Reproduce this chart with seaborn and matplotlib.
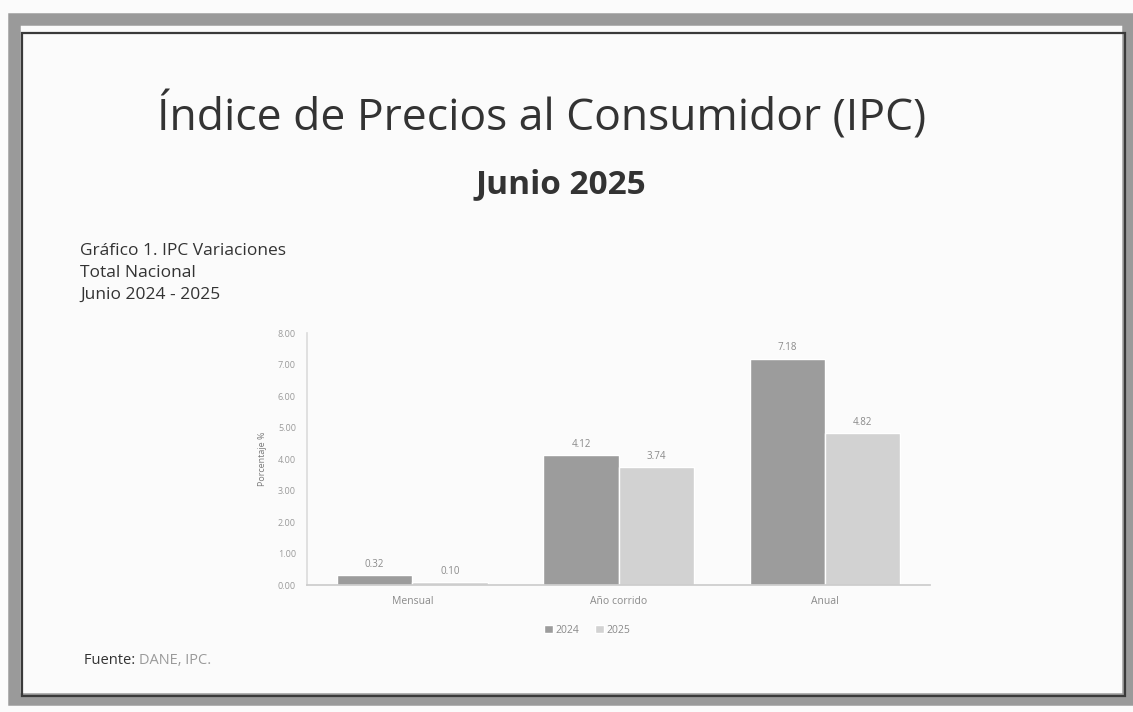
import matplotlib
matplotlib.use("Agg")
import matplotlib.pyplot as plt
import seaborn as sns
import pandas as pd
from matplotlib.patches import Rectangle

categories = ["Mensual", "Año corrido", "Anual"]
years = ["2024", "2025"]
values_2024 = [0.32, 4.12, 7.18]
values_2025 = [0.10, 3.74, 4.82]
ytick_values = [0, 1, 2, 3, 4, 5, 6, 7, 8]

df = pd.DataFrame({
    "Periodo": categories * 2,
    "Año": [years[0]] * 3 + [years[1]] * 3,
    "Valor": values_2024 + values_2025,
})

sns.set_theme(style="white")
plt.rcParams["font.family"] = ["Open Sans", "DejaVu Sans"]

fig = plt.figure(figsize=(11.33, 7.12), dpi=100)
fig.patch.set_facecolor("#fbfbfb")

# frame
fig.add_artist(Rectangle((0.012, 0.018), 0.984, 0.955, transform=fig.transFigure,
                         fill=False, edgecolor="#9a9a9a", linewidth=9))
fig.add_artist(Rectangle((0.019, 0.022), 0.974, 0.932, transform=fig.transFigure,
                         fill=False, edgecolor="#3a3a3a", linewidth=1.6))

ax = fig.add_axes([0.271, 0.178, 0.55, 0.354])
ax.set_facecolor("#fbfbfb")
palette = {"2024": "#9c9c9c", "2025": "#d2d2d2"}
sns.barplot(data=df, x="Periodo", y="Valor", hue="Año", order=categories,
            hue_order=years, palette=palette, width=0.73, ax=ax,
            saturation=1, legend=True)

for cont in ax.containers:
    ax.bar_label(cont, labels=[f"{v:.2f}" for v in cont.datavalues],
                 padding=4, fontsize=7, color="#8a8a8a")

ax.set_ylim(0, 8)
ax.set_xlim(-0.51, 2.51)
ax.set_yticks(ytick_values)
ax.set_yticklabels([f"{v:.2f}" for v in ytick_values], fontsize=6.5, color="#9a9a9a")
ax.tick_params(axis="x", labelsize=7.5, colors="#8a8a8a", length=0, pad=8)
ax.tick_params(axis="y", length=0, pad=8)
ax.set_xlabel("")
ax.set_ylabel("Porcentaje %", fontsize=6.5, color="#7a7a7a", labelpad=8)
for s in ["top", "right"]:
    ax.spines[s].set_visible(False)
ax.spines["left"].set_color("#dddddd")
ax.spines["bottom"].set_color("#cccccc")

leg = ax.legend(loc="upper center", bbox_to_anchor=(0.45, -0.12), ncol=2, frameon=False,
                fontsize=7.5, handlelength=0.8, handleheight=0.8, columnspacing=1.5,
                handletextpad=0.3)
for t in leg.get_texts():
    t.set_color("#8a8a8a")

fig.text(0.478, 0.836, "Índice de Precios al Consumidor (IPC)", ha="center", va="center",
         fontsize=32, color="#333333")
fig.text(0.495, 0.740, "Junio 2025", ha="center", va="center", fontsize=24,
         fontweight="bold", color="#333333")

for i, line in enumerate(["Gráfico 1. IPC Variaciones", "Total Nacional", "Junio 2024 - 2025"]):
    fig.text(0.071, 0.648 - i * 0.031, line, ha="left", va="center", fontsize=12.5,
             color="#333333")

t1 = fig.text(0.074, 0.073, "Fuente: ", ha="left", va="center", fontsize=10.5,
              color="#333333")
fig.canvas.draw()
bb = t1.get_window_extent().transformed(fig.transFigure.inverted())
fig.text(bb.x1, 0.073, "DANE, IPC.", ha="left", va="center", fontsize=10.5,
         color="#9a9a9a")

fig.savefig("out.png", dpi=100, facecolor=fig.get_facecolor())
